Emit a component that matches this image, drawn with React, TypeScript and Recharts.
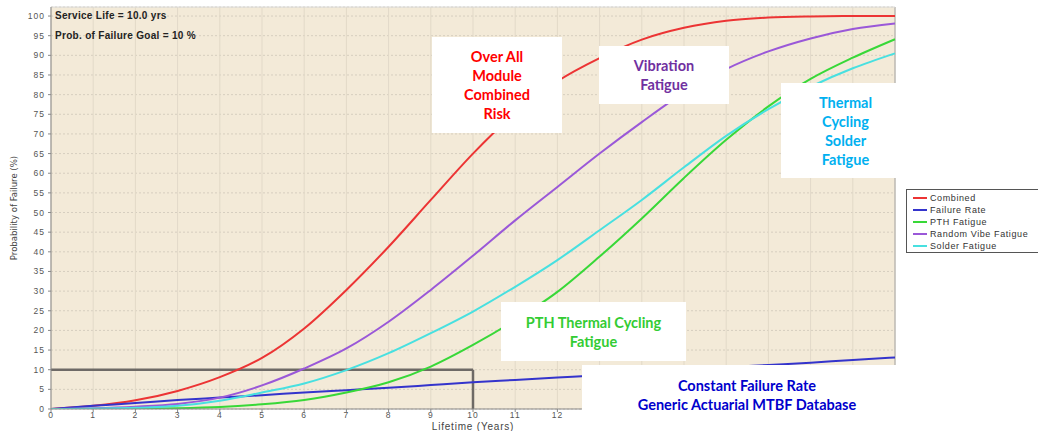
import React from "react";
import {
  LineChart,
  Line,
  XAxis,
  YAxis,
  CartesianGrid,
  ReferenceLine,
  Legend,
} from "recharts";

// lifetime in years
const years = [0, 1, 2, 3, 4, 5, 6, 7, 8, 9, 10, 11, 12, 13, 14, 15, 16, 17, 18, 19, 20];

// probability of failure (%)
const combined = [0, 0.8, 2.2, 4.6, 8.1, 13, 20.5, 30.3, 41.3, 53.2, 65, 75.3, 83.4, 89.3, 94, 97, 98.8, 99.6, 99.9, 100, 100];
const failureRate = [0, 0.8, 1.5, 2.3, 2.9, 3.5, 4.2, 4.8, 5.4, 6.1, 6.8, 7.4, 8.0, 8.6, 9.3, 9.9, 10.6, 11.2, 11.8, 12.5, 13.1];
const pthFatigue = [0, 0, 0.1, 0.2, 0.5, 1.2, 2.3, 4.2, 6.8, 10.8, 16.3, 22.6, 29.8, 38.8, 48.5, 58.8, 68.5, 77, 84, 89.4, 94.1];
const vibeFatigue = [0, 0.2, 0.6, 1.3, 2.9, 6, 10.3, 15.4, 22.2, 30.3, 39, 48, 56.5, 65, 73, 80.5, 86.5, 91, 94.3, 96.7, 98.1];
const solderFatigue = [0, 0.1, 0.3, 0.8, 2.1, 4.2, 6.5, 9.9, 14.2, 19.3, 24.8, 31.1, 37.9, 45.5, 53.2, 61.5, 69.5, 76.3, 82, 86.7, 90.5];

const yTicks = [0, 5, 10, 15, 20, 25, 30, 35, 40, 45, 50, 55, 60, 65, 70, 75, 80, 85, 90, 95, 100];
// x labels past 12 sit under the database note in the original
const lastShownYear = 12;

const serviceLife = 10;
const failureGoal = 10;

const data = years.map((year, i) => ({
  year,
  combined: combined[i],
  failureRate: failureRate[i],
  pth: pthFatigue[i],
  vibe: vibeFatigue[i],
  solder: solderFatigue[i],
}));

const tickFont = { fontSize: 8.5, fill: "#555", letterSpacing: 1, fontFamily: "Liberation Sans, Arial, sans-serif" };

function XTick(props: any) {
  const { x, payload } = props;
  if (payload.value > lastShownYear) return <g />;
  const top = 409;
  return (
    <g>
      <line x1={x} x2={x} y1={top} y2={top + 3} stroke="#888" />
      <text x={x} y={top + 9} textAnchor="middle" style={tickFont}>
        {payload.value}
      </text>
    </g>
  );
}

function LegendBox(props: any) {
  const { payload } = props;
  return (
    <div
      style={{
        border: "1px solid #555",
        background: "#fff",
        width: 140,
        height: 64,
        boxSizing: "border-box",
        padding: "2px 0 0 6px",
        fontFamily: "Liberation Sans, Arial, sans-serif",
        fontSize: 9,
        lineHeight: "12px",
        letterSpacing: 0.6,
        color: "#333",
        whiteSpace: "nowrap",
        textAlign: "left",
      }}
    >
      {(payload || []).map((p: any) => (
        <div key={p.value} style={{ display: "flex", alignItems: "center", height: 12 }}>
          <span style={{ display: "inline-block", width: 14, height: 2, background: p.color, marginRight: 3 }} />
          <span>{p.value}</span>
        </div>
      ))}
    </div>
  );
}

function Note(props: { left: number; top: number; width: number; height: number; color: string; lines: string[]; pad?: number; padB?: number }) {
  return (
    <div
      style={{
        position: "absolute",
        left: props.left,
        top: props.top,
        width: props.width,
        height: props.height,
        background: "#fff",
        display: "flex",
        flexDirection: "column",
        alignItems: "center",
        justifyContent: "center",
        boxSizing: "border-box",
        paddingLeft: props.pad || 0,
        paddingBottom: props.padB || 0,
        color: props.color,
        fontFamily: "Lato, 'Open Sans', sans-serif",
        fontWeight: 700,
        fontSize: 14.5,
        lineHeight: "19px",
      }}
    >
      {props.lines.map((l) => (
        <div key={l}>{l}</div>
      ))}
    </div>
  );
}

export default function App() {
  return (
    <div style={{ position: "absolute", left: 0, top: 0, width: 1038, height: 431, overflow: "hidden", background: "#fff" }}>
      <LineChart width={1038} height={431} data={data} margin={{ top: 7, right: 143, bottom: 0, left: 0 }}>
        <CartesianGrid fill="#F3EAD8" vertical={false} stroke="#D6CEBF" strokeDasharray="2 2" />
        <CartesianGrid horizontal={false} stroke="#E2D9C8" />
        <XAxis
          dataKey="year"
          type="number"
          domain={[0, 20]}
          ticks={years}
          interval={0}
          height={22}
          tickLine={false}
          tick={<XTick />}
          stroke="#888"
          label={{ value: "Lifetime (Years)", position: "insideBottom", offset: 1, style: { fontSize: 10, fill: "#444", letterSpacing: 0.8, fontFamily: "Liberation Sans, Arial, sans-serif" } }}
        />
        <YAxis
          type="number"
          domain={[0, 102.3]}
          ticks={yTicks}
          interval={0}
          width={51}
          tickSize={3}
          tickMargin={3}
          tick={tickFont}
          stroke="#888"
          allowDataOverflow
          label={{
            value: "Probability of Failure (%)",
            angle: -90,
            position: "insideLeft",
            offset: 14,
            style: { textAnchor: "middle", fontSize: 9.5, fill: "#444", fontFamily: "'Liberation Sans Narrow', 'DejaVu Sans Condensed', sans-serif" },
          }}
        />
        <ReferenceLine x={20} stroke="#A8A8A8" />
        <ReferenceLine y={102.3} stroke="#DADADA" />
        <ReferenceLine segment={[{ x: 0, y: failureGoal }, { x: serviceLife, y: failureGoal }]} stroke="#6E6A66" strokeWidth={2.5} />
        <ReferenceLine segment={[{ x: serviceLife, y: 0 }, { x: serviceLife, y: failureGoal }]} stroke="#6E6A66" strokeWidth={2.5} />
        <Line type="monotone" dataKey="combined" name="Combined" stroke="#EC3434" strokeWidth={2} dot={false} isAnimationActive={false} />
        <Line type="monotone" dataKey="failureRate" name="Failure Rate" stroke="#3434CC" strokeWidth={2} dot={false} isAnimationActive={false} />
        <Line type="monotone" dataKey="pth" name="PTH Fatigue" stroke="#38D838" strokeWidth={2} dot={false} isAnimationActive={false} />
        <Line type="monotone" dataKey="vibe" name="Random Vibe Fatigue" stroke="#9A58D8" strokeWidth={2} dot={false} isAnimationActive={false} />
        <Line type="monotone" dataKey="solder" name="Solder Fatigue" stroke="#48E0E0" strokeWidth={2} dot={false} isAnimationActive={false} />
        <Legend
          content={LegendBox}
          layout="vertical"
          align="center"
          verticalAlign="middle"
          wrapperStyle={{ position: "absolute", left: 906, top: 189, width: 140, bottom: "auto", right: "auto", margin: 0 }}
        />
      </LineChart>

      <div
        style={{
          position: "absolute",
          left: 55,
          top: 9,
          fontFamily: "Liberation Sans, Arial, sans-serif",
          fontWeight: 700,
          fontSize: 10,
          lineHeight: "20px",
          color: "#222",
          letterSpacing: 0.3,
        }}
      >
        <div style={{ height: 20, marginTop: -3 }}>Service Life = {serviceLife.toFixed(1)} yrs</div>
        <div style={{ height: 20 }}>Prob. of Failure Goal = {failureGoal} %</div>
      </div>

      <Note left={432} top={37} width={130} height={96} color="#FF0000" lines={["Over All", "Module", "Combined", "Risk"]} />
      <Note left={599} top={46} width={130} height={58} color="#7030A0" lines={["Vibration", "Fatigue"]} />
      <Note left={781} top={83} width={117} height={95} color="#00B0F0" lines={["Thermal", "Cycling", "Solder", "Fatigue"]} pad={12} />
      <Note left={501} top={302} width={185} height={59} color="#33CC33" lines={["PTH Thermal Cycling", "Fatigue"]} />
      <Note left={582} top={365} width={318} height={66} color="#0000CC" lines={["Constant Failure Rate", "Generic Actuarial MTBF Database"]} pad={12} padB={7} />
    </div>
  );
}
